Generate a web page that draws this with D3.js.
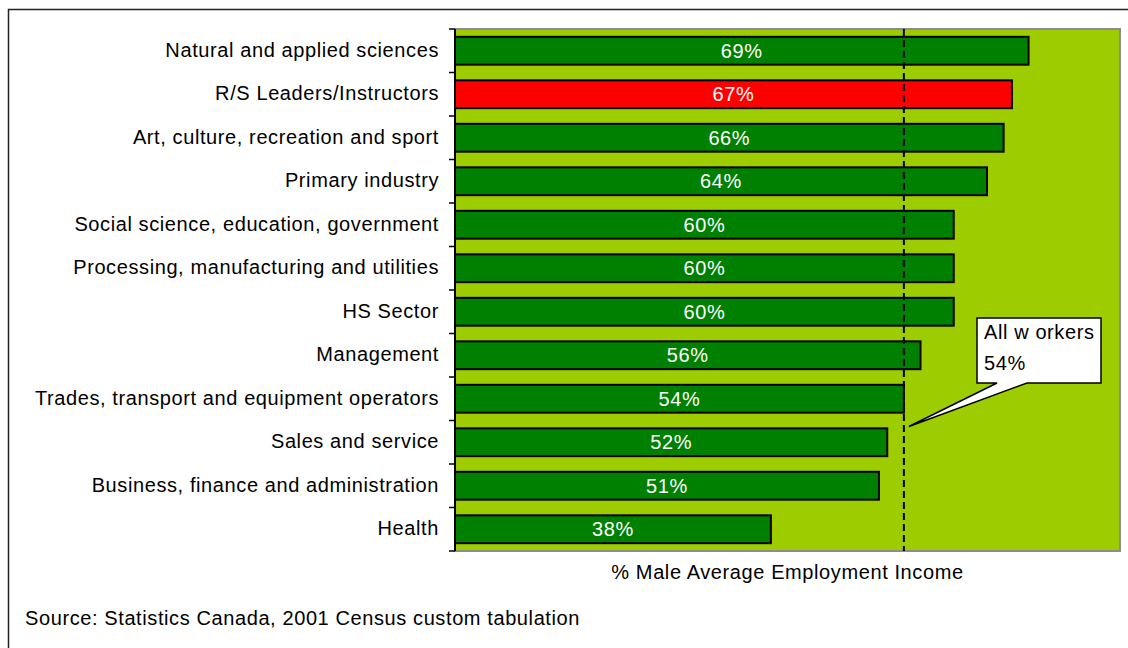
<!DOCTYPE html>
<html>
<head>
<meta charset="utf-8">
<script src="https://cdn.jsdelivr.net/npm/d3@7"></script>
<style>
  html, body { margin: 0; padding: 0; background: #fff; }
  svg { display: block; font-family: "Liberation Sans", Arial, sans-serif; }
  svg text { letter-spacing: 0.6px; }
</style>
</head>
<body>
<svg id="chart" width="1128" height="648"></svg>
<script>
// Occupation groups, top to bottom
const categories = [
  "Natural and applied sciences",
  "R/S Leaders/Instructors",
  "Art, culture, recreation and sport",
  "Primary industry",
  "Social science, education, government",
  "Processing, manufacturing and utilities",
  "HS Sector",
  "Management",
  "Trades, transport and equipment operators",
  "Sales and service",
  "Business, finance and administration",
  "Health"
];
// Female average employment income as % of male
const values = [69, 67, 66, 64, 60, 60, 60, 56, 54, 52, 51, 38];
const highlighted = ["R/S Leaders/Instructors"];
const allWorkers = 54;
const calloutLines = ["All w orkers", "54%"];
const axisTitle = "% Male Average Employment Income";
const sourceNote = "Source: Statistics Canada, 2001 Census custom tabulation";

const svg = d3.select("#chart");
const plot = { left: 455, top: 29, right: 1120, bottom: 551 };

// outer frame (left and top edges visible)
svg.append("path")
  .attr("d", "M8.5,648 L8.5,9.5 L1128,9.5")
  .attr("fill", "none").attr("stroke", "#222").attr("stroke-width", 1.5);

const x = d3.scaleLinear().domain([0, 80]).range([plot.left, plot.right]);
const y = d3.scaleBand().domain(categories).range([plot.top, plot.bottom]).padding(0);
const barH = y.bandwidth() * 0.64;

// plot background
svg.append("rect")
  .attr("x", plot.left).attr("y", plot.top)
  .attr("width", plot.right - plot.left).attr("height", plot.bottom - plot.top)
  .attr("fill", "#9DCC00").attr("stroke", "#8c8c8c").attr("stroke-width", 2);

// bars
const rows = categories.map((c, i) => ({ c, v: values[i] }));
svg.append("g").selectAll("rect").data(rows).join("rect")
  .attr("x", x(0))
  .attr("y", d => y(d.c) + (y.bandwidth() - barH) / 2)
  .attr("width", d => x(d.v) - x(0))
  .attr("height", barH)
  .attr("fill", d => highlighted.includes(d.c) ? "#FF0000" : "#008000")
  .attr("stroke", "#000").attr("stroke-width", 2);

// value labels
svg.append("g").selectAll("text").data(rows).join("text")
  .attr("x", d => (x(0) + x(d.v)) / 2)
  .attr("y", d => y(d.c) + y.bandwidth() / 2)
  .attr("dy", "0.34em")
  .attr("text-anchor", "middle")
  .attr("fill", "#fff")
  .style("font-size", "20px")
  .text(d => d.v + "%");

// all-workers reference line
svg.append("line")
  .attr("x1", x(allWorkers)).attr("x2", x(allWorkers))
  .attr("y1", plot.top).attr("y2", plot.bottom)
  .attr("stroke", "#000").attr("stroke-width", 2)
  .attr("stroke-dasharray", "7,4");

// category axis
const yAxis = d3.axisLeft(y).tickSize(0).tickPadding(16);
const ga = svg.append("g").attr("transform", `translate(${plot.left},0)`).call(yAxis);
ga.select(".domain").remove();
ga.selectAll("text").style("font-size", "20px").attr("fill", "#000").attr("dy", "0.3em")
  .style("font-family", "'Liberation Sans', Arial, sans-serif");
svg.append("line")
  .attr("x1", plot.left).attr("x2", plot.left)
  .attr("y1", plot.top).attr("y2", plot.bottom)
  .attr("stroke", "#000").attr("stroke-width", 2);
const boundaries = categories.map(c => y(c)).concat([plot.bottom]);
svg.append("g").selectAll("line").data(boundaries).join("line")
  .attr("x1", plot.left - 6).attr("x2", plot.left)
  .attr("y1", d => d).attr("y2", d => d)
  .attr("stroke", "#000").attr("stroke-width", 1.5);

// callout
const tipX = x(allWorkers) + 5;
const tipY = y("Sales and service") + 6;
const box = { x: 977, y: 318, w: 124, h: 65 };
svg.append("path")
  .attr("d", `M${box.x},${box.y} H${box.x + box.w} V${box.y + box.h} H${box.x + 50} L${tipX},${tipY} L${box.x + 20},${box.y + box.h} H${box.x} Z`)
  .attr("fill", "#fff").attr("stroke", "#000").attr("stroke-width", 1.5);
svg.append("g").selectAll("text").data(calloutLines).join("text")
  .attr("x", box.x + 7)
  .attr("y", (d, i) => box.y + 21 + i * 31)
  .style("font-size", "20px").attr("fill", "#000")
  .text(d => d);

// axis title and source
svg.append("text")
  .attr("x", (plot.left + plot.right) / 2).attr("y", 579)
  .attr("text-anchor", "middle").style("font-size", "20px").attr("fill", "#000")
  .text(axisTitle);
svg.append("text")
  .attr("x", 25).attr("y", 625)
  .style("font-size", "20px").attr("fill", "#000")
  .text(sourceNote);
</script>
</body>
</html>
